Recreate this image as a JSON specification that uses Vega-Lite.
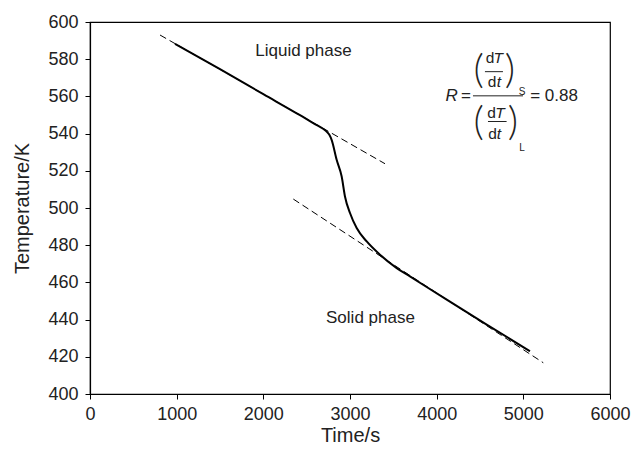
{
  "$schema": "https://vega.github.io/schema/vega-lite/v6.json",
  "width": 520,
  "height": 372,
  "autosize": {"type": "none"},
  "padding": {"left": 90, "top": 22, "right": 22, "bottom": 58},
  "config": {
    "font": "Liberation Sans",
    "view": {"stroke": "black", "strokeWidth": 1.2},
    "axis": {
      "domainColor": "black",
      "domainWidth": 1.2,
      "tickColor": "black",
      "tickWidth": 1,
      "tickSize": 5,
      "labelColor": "#222222",
      "titleColor": "#222222",
      "labelFontSize": 18,
      "titleFontSize": 20,
      "titleFontWeight": "normal",
      "labelFont": "Liberation Sans",
      "titleFont": "Liberation Sans",
      "grid": false
    },
    "text": {"font": "Liberation Sans", "color": "#222222"}
  },
  "encoding": {
    "x": {
      "field": "x",
      "type": "quantitative",
      "scale": {"domain": [0, 6000], "nice": false},
      "axis": {"title": "Time/s", "format": "d", "values": [0, 1000, 2000, 3000, 4000, 5000, 6000], "labelPadding": 6, "titlePadding": 2, "labelFlush": false}
    },
    "y": {
      "field": "y",
      "type": "quantitative",
      "scale": {"domain": [400, 600], "nice": false, "zero": false},
      "axis": {"title": "Temperature/K", "format": "d", "values": [400, 420, 440, 460, 480, 500, 520, 540, 560, 580, 600], "labelPadding": 7, "titlePadding": 15, "labelFlush": false}
    }
  },
  "layer": [
    {
      "data": {"values": [
        {"seg": "L", "x": 808, "y": 593.0},
        {"seg": "L", "x": 3404, "y": 523.8},
        {"seg": "S", "x": 2346, "y": 504.8},
        {"seg": "S", "x": 5230, "y": 416.8}
      ]},
      "mark": {"type": "line", "color": "black", "strokeWidth": 1, "strokeDash": [7, 4]},
      "encoding": {"detail": {"field": "seg"}}
    },
    {
      "data": {"values": [
        {"x": 981, "y": 588.2},
        {"x": 1500, "y": 574.6},
        {"x": 2000, "y": 561.2},
        {"x": 2423, "y": 549.9},
        {"x": 2600, "y": 545.0},
        {"x": 2680, "y": 542.9},
        {"x": 2720, "y": 541.5},
        {"x": 2760, "y": 539.5},
        {"x": 2789, "y": 536.5},
        {"x": 2846, "y": 525.9},
        {"x": 2904, "y": 516.9},
        {"x": 2942, "y": 506.2},
        {"x": 3000, "y": 497.3},
        {"x": 3077, "y": 489.2},
        {"x": 3193, "y": 482.0},
        {"x": 3346, "y": 474.9},
        {"x": 3539, "y": 467.7},
        {"x": 3692, "y": 463.2},
        {"x": 4116, "y": 450.7},
        {"x": 4577, "y": 437.3},
        {"x": 5077, "y": 423.0}
      ]},
      "mark": {"type": "line", "color": "black", "strokeWidth": 2, "interpolate": "monotone"}
    },
    {
      "data": {"values": [
        {"x": 2463, "y": 584.6, "label": "Liquid phase"},
        {"x": 3236, "y": 440.6, "label": "Solid phase"},
        {"x": 4338, "y": 560.3, "label": "="},
        {"x": 5354, "y": 560.3, "label": "= 0.88"}
      ]},
      "mark": {"type": "text", "fontSize": 17, "align": "center", "baseline": "middle"},
      "encoding": {"text": {"field": "label"}}
    },
    {
      "data": {"values": [
        {"x": 4173, "y": 560.3, "label": "R"}
      ]},
      "mark": {"type": "text", "fontSize": 17, "fontStyle": "italic", "align": "center", "baseline": "middle"},
      "encoding": {"text": {"field": "label"}}
    },
    {
      "data": {"values": [
        {"x": 4615, "y": 580.5, "label": "d"},
        {"x": 4638, "y": 567.6, "label": "d"},
        {"x": 4634, "y": 551.0, "label": "d"},
        {"x": 4646, "y": 539.9, "label": "d"}
      ]},
      "mark": {"type": "text", "fontSize": 15.5, "align": "center", "baseline": "middle"},
      "encoding": {"text": {"field": "label"}}
    },
    {
      "data": {"values": [
        {"x": 4711, "y": 580.5, "label": "T"},
        {"x": 4719, "y": 567.6, "label": "t"},
        {"x": 4731, "y": 551.0, "label": "T"},
        {"x": 4719, "y": 539.9, "label": "t"}
      ]},
      "mark": {"type": "text", "fontSize": 15.5, "fontStyle": "italic", "align": "center", "baseline": "middle"},
      "encoding": {"text": {"field": "label"}}
    },
    {
      "data": {"values": [
        {"x": 4485, "y": 573.7, "label": "("},
        {"x": 4845, "y": 573.7, "label": ")"},
        {"x": 4485, "y": 545.8, "label": "("},
        {"x": 4880, "y": 545.8, "label": ")"}
      ]},
      "mark": {"type": "text", "font": "Lato", "fontWeight": 300, "fontSize": 40, "align": "center", "baseline": "middle"},
      "encoding": {"text": {"field": "label"}}
    },
    {
      "data": {"values": [
        {"x": 4985, "y": 562.2, "label": "S"},
        {"x": 4985, "y": 532.0, "label": "L"}
      ]},
      "mark": {"type": "text", "fontSize": 10, "align": "center", "baseline": "middle"},
      "encoding": {"text": {"field": "label"}}
    },
    {
      "data": {"values": [
        {"x": 4419, "x2": 4996, "y": 560.3},
        {"x": 4557, "x2": 4765, "y": 573.3},
        {"x": 4592, "x2": 4807, "y": 546.5}
      ]},
      "mark": {"type": "rule", "color": "#222222", "strokeWidth": 1},
      "encoding": {"x2": {"field": "x2"}}
    }
  ]
}
